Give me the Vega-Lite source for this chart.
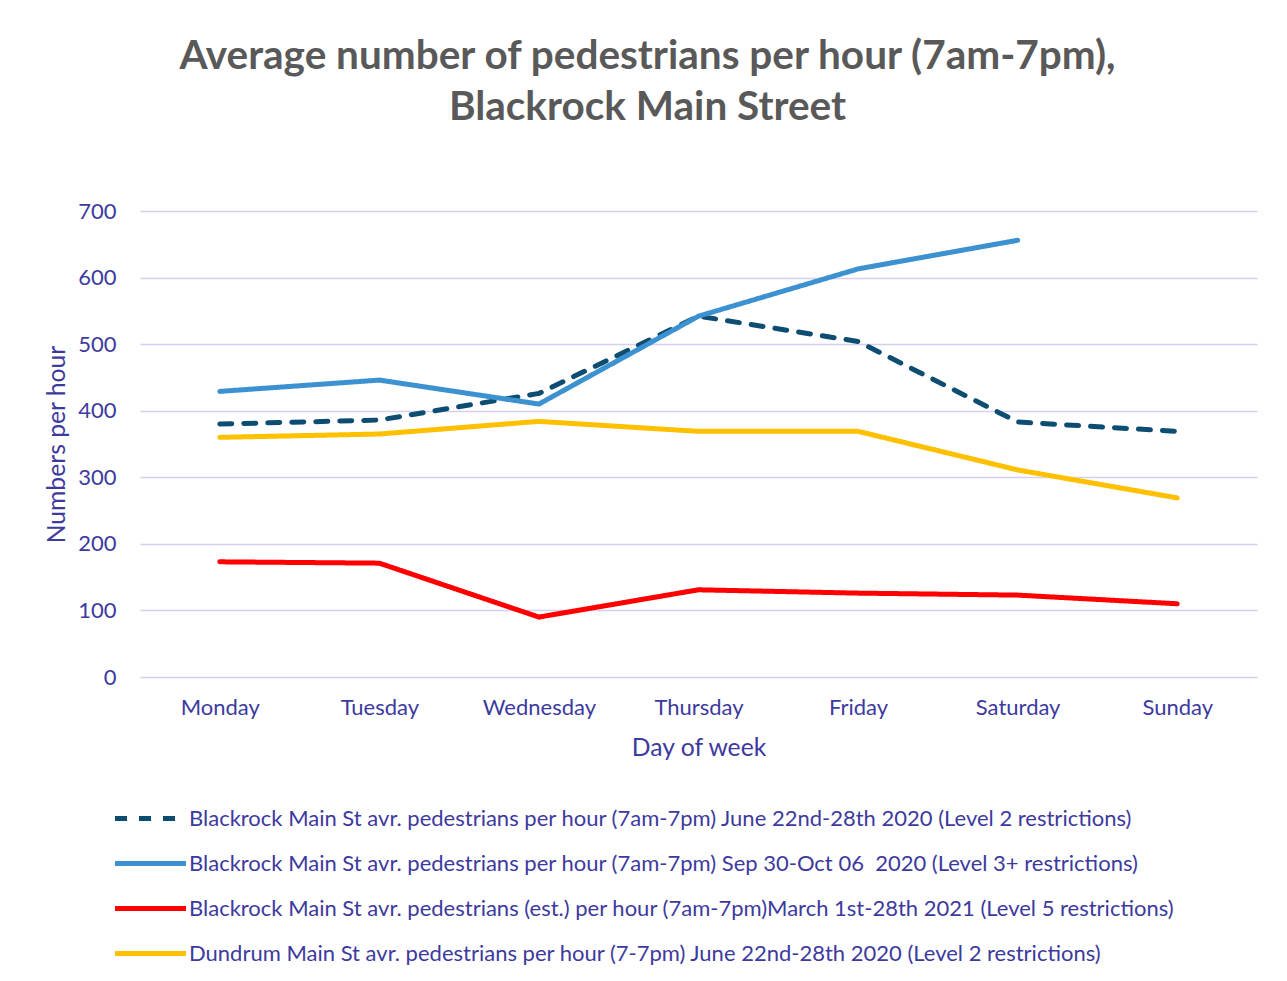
{
  "$schema": "https://vega.github.io/schema/vega-lite/v6.json",
  "autosize": "none",
  "width": 1117,
  "height": 466,
  "padding": {"left": 140, "top": 211, "right": 30, "bottom": 304},
  "background": "white",
  "title": {
    "text": ["Average number of pedestrians per hour (7am-7pm),", "Blackrock Main Street"],
    "font": "Lato",
    "fontSize": 40.5,
    "fontWeight": "bold",
    "color": "#595959",
    "anchor": "middle",
    "dx": -51,
    "lineHeight": 51,
    "offset": 72
  },
  "config": {
    "font": "Lato",
    "view": {"stroke": null},
    "axis": {
      "labelColor": "#3d3a9e",
      "titleColor": "#3d3a9e",
      "labelFont": "Lato",
      "titleFont": "Lato",
      "labelFontSize": 22,
      "titleFontSize": 24.7,
      "titleFontWeight": "normal",
      "ticks": false,
      "domain": false,
      "gridColor": "#d4d0ee",
      "gridWidth": 1.5
    },
    "legend": {
      "labelColor": "#3d3a9e",
      "labelFont": "Lato",
      "labelFontSize": 22,
      "labelLimit": 1200
    }
  },
  "data": {
    "values": [
      {"series": "A", "day": "Monday", "value": 380},
      {"series": "A", "day": "Tuesday", "value": 386},
      {"series": "A", "day": "Wednesday", "value": 426},
      {"series": "A", "day": "Thursday", "value": 542},
      {"series": "A", "day": "Friday", "value": 504},
      {"series": "A", "day": "Saturday", "value": 383},
      {"series": "A", "day": "Sunday", "value": 369},
      {"series": "B", "day": "Monday", "value": 429},
      {"series": "B", "day": "Tuesday", "value": 446},
      {"series": "B", "day": "Wednesday", "value": 410},
      {"series": "B", "day": "Thursday", "value": 542},
      {"series": "B", "day": "Friday", "value": 613},
      {"series": "B", "day": "Saturday", "value": 656},
      {"series": "C", "day": "Monday", "value": 173},
      {"series": "C", "day": "Tuesday", "value": 171},
      {"series": "C", "day": "Wednesday", "value": 90},
      {"series": "C", "day": "Thursday", "value": 131},
      {"series": "C", "day": "Friday", "value": 126},
      {"series": "C", "day": "Saturday", "value": 123},
      {"series": "C", "day": "Sunday", "value": 110},
      {"series": "D", "day": "Monday", "value": 360},
      {"series": "D", "day": "Tuesday", "value": 365},
      {"series": "D", "day": "Wednesday", "value": 384},
      {"series": "D", "day": "Thursday", "value": 369},
      {"series": "D", "day": "Friday", "value": 369},
      {"series": "D", "day": "Saturday", "value": 311},
      {"series": "D", "day": "Sunday", "value": 269}
    ]
  },
  "mark": {"type": "line", "strokeWidth": 5, "strokeCap": "round", "strokeJoin": "round"},
  "encoding": {
    "x": {
      "field": "day",
      "type": "ordinal",
      "sort": ["Monday", "Tuesday", "Wednesday", "Thursday", "Friday", "Saturday", "Sunday"],
      "scale": {"type": "point", "padding": 0.5},
      "title": "Day of week",
      "axis": {"labelAngle": 0, "labelPadding": 20, "titlePadding": 17, "grid": false}
    },
    "y": {
      "field": "value",
      "type": "quantitative",
      "scale": {"domain": [0, 700]},
      "title": "Numbers per hour",
      "axis": {"values": [0, 100, 200, 300, 400, 500, 600, 700], "labelPadding": 24, "titlePadding": 8}
    },
    "color": {
      "field": "series",
      "type": "nominal",
      "scale": {
        "domain": ["A", "B", "C", "D"],
        "range": ["#0d4d72", "#3c92d0", "#ff0000", "#ffc000"]
      },
      "legend": {
        "title": null,
        "orient": "none",
        "legendX": -4,
        "legendY": 593,
        "direction": "vertical",
        "symbolType": "M-3,0L3,0",
        "symbolSize": 560,
        "symbolStrokeWidth": 5,
        "rowPadding": 19,
        "labelOffset": 24,
        "labelExpr": "datum.value == 'A' ? 'Blackrock Main St avr. pedestrians per hour (7am-7pm) June 22nd-28th 2020 (Level 2 restrictions)' : datum.value == 'B' ? 'Blackrock Main St avr. pedestrians per hour (7am-7pm) Sep 30-Oct 06\u00a0 2020 (Level 3+ restrictions)' : datum.value == 'C' ? 'Blackrock Main St avr. pedestrians (est.) per hour (7am-7pm)March 1st-28th 2021 (Level 5 restrictions)' : 'Dundrum Main St avr. pedestrians per hour (7-7pm) June 22nd-28th 2020 (Level 2 restrictions)'"
      }
    },
    "strokeDash": {
      "field": "series",
      "type": "nominal",
      "scale": {
        "domain": ["A", "B", "C", "D"],
        "range": [[12, 12], [1, 0], [1, 0], [1, 0]]
      },
      "legend": {
        "title": null,
        "orient": "none",
        "legendX": -4,
        "legendY": 593,
        "direction": "vertical",
        "symbolType": "M-3,0L3,0",
        "symbolSize": 560,
        "symbolStrokeWidth": 5,
        "rowPadding": 19,
        "labelOffset": 24,
        "labelExpr": "datum.value == 'A' ? 'Blackrock Main St avr. pedestrians per hour (7am-7pm) June 22nd-28th 2020 (Level 2 restrictions)' : datum.value == 'B' ? 'Blackrock Main St avr. pedestrians per hour (7am-7pm) Sep 30-Oct 06\u00a0 2020 (Level 3+ restrictions)' : datum.value == 'C' ? 'Blackrock Main St avr. pedestrians (est.) per hour (7am-7pm)March 1st-28th 2021 (Level 5 restrictions)' : 'Dundrum Main St avr. pedestrians per hour (7-7pm) June 22nd-28th 2020 (Level 2 restrictions)'"
      }
    }
  }
}
